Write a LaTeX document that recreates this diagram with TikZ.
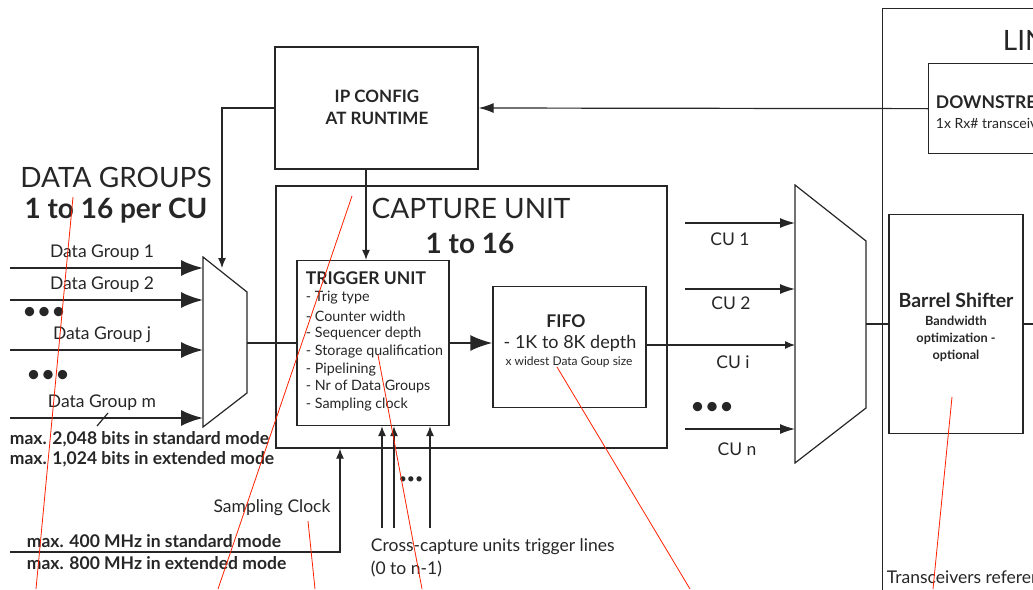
\documentclass[tikz,border=0pt]{standalone}
\usepackage{fontspec}
\setmainfont{Lato}
\usetikzlibrary{arrows.meta}
\begin{document}
\begin{tikzpicture}[x=1pt, y=-1pt, line width=1.2pt, color=black!85,
    box/.style={draw, line width=1.3pt, inner sep=0pt},
    bigarr/.style={-{Latex[length=22pt,width=16pt]}, line width=2pt},
    midarr/.style={-{Latex[length=15pt,width=10pt]}},
    smallarr/.style={-{Latex[length=10pt,width=8pt]}},
    lbl/.style={font=\fontsize{17.5}{20}\selectfont},
    bold/.style={font=\fontsize{17.5}{20}\selectfont\bfseries},
    huge/.style={font=\fontsize{28}{32}\selectfont},
    dots/.style={font=\fontsize{25}{28}\selectfont, inner sep=0pt},
    note/.style={draw=red!75!orange, line width=0.8pt}]
    \clip (0,0) rectangle (1033,589);
    \useasboundingbox (0,0) rectangle (1033,589);
    % boxes
    \node[box, minimum width=203pt, minimum height=122pt] (ipcfg) at (376.5,108) {};
    \node[font=\fontsize{17}{22}\selectfont\bfseries, align=center] (ipcfgtxt) at (377,107) {IP CONFIG\\AT RUNTIME};
    \node[box, minimum width=391pt, minimum height=262pt] (capture) at (471.5,317) {};
    \node[box, minimum width=152pt, minimum height=165pt] (trig) at (373,343) {};
    \node[box, minimum width=153pt, minimum height=121pt] (fifo) at (569.5,347) {};
    \node[box, minimum width=134pt, minimum height=219pt] (barrel) at (956,324) {};
    \node[box, minimum width=260pt, minimum height=700pt, anchor=north west] (link) at (882,8) {};
    \node[box, minimum width=200pt, minimum height=90pt, anchor=north west] (down) at (928,63) {};
    % multiplexers
    \coordinate (mina) at (203,257); \coordinate (minb) at (247,292);
    \coordinate (minc) at (247,393); \coordinate (mind) at (203,427);
    \draw (mina) -- (minb) -- (minc) -- (mind) -- cycle;
    \coordinate (mouta) at (795,185); \coordinate (moutb) at (866,241);
    \coordinate (moutc) at (866,408); \coordinate (moutd) at (795,463);
    \draw (mouta) -- (moutb) -- (moutc) -- (moutd) -- cycle;
    % titles
    \node[huge] (dgtitle) at (116,177) {DATA GROUPS};
    \node[huge, font=\fontsize{28}{32}\selectfont\bfseries] (dgcount) at (116,211) {1 to 16 per CU};
    \node[huge] (cutitle) at (471,208) {CAPTURE UNIT};
    \node[huge, font=\fontsize{28}{32}\selectfont\bfseries] (cucount) at (470,243) {1 to 16};
    \node[huge, anchor=west] (linktitle) at (999,40) {LINK LAYER};
    % data groups
    \foreach \y/\t in {268/1, 300/2, 350/j, 418/m} {
        \coordinate (dg\t) at (10,\y);
        \draw[bigarr] (dg\t) -- (dg\t -| mina);
        \node[lbl] at (102,\y-15) {Data Group \t};
    }
    \node[dots] (dgdotsa) at (44,313) {•••};
    \node[dots] (dgdotsb) at (48,376) {•••};
    \coordinate (dgtick) at (97,426);
    \draw (dgtick) -- +(11,-13);
    \node[bold, anchor=west] (dgmaxa) at (6,439) {max. 2,048 bits in standard mode};
    \node[bold, anchor=west] (dgmaxb) at (6,459) {max. 1,024 bits in extended mode};
    % config path
    \coordinate (cfgin) at (222,268);
    \draw[smallarr] (ipcfg.west) -| (cfgin);
    \draw[midarr] (down.west) -- (ipcfg.east);
    \coordinate (cfgdown) at (366,0);
    \draw[smallarr] (ipcfg.south -| cfgdown) -- (trig.north -| cfgdown);
    % datapath
    \coordinate (minout) at (247,343);
    \draw[line width=2pt] (minout) -- (trig.west);
    \draw[bigarr] (trig.east) -- (trig.east -| fifo.west);
    \coordinate (cui) at (646,345);
    \draw[smallarr] (cui) -- (cui -| mouta);
    \foreach \y/\t in {223/1, 289/2, 429/n} {
        \coordinate (cu\t) at (685,\y);
        \draw[midarr] (cu\t) -- (cu\t -| mouta);
    }
    \node[lbl] (cuonelbl) at (730,239) {CU 1};
    \node[lbl] (cutwolbl) at (731,303) {CU 2};
    \node[lbl] (cuilbl) at (733,362) {CU i};
    \node[dots] (cudots) at (712,408) {•••};
    \node[lbl] (cunlbl) at (737,449) {CU n};
    \coordinate (moutout) at (866,324);
    \draw (moutout) -- (barrel.west);
    \draw (barrel.east) -- +(20,0);
    % trigger unit text
    \node[bold, anchor=west] (trigtitle) at (302,278) {TRIGGER UNIT};
    \foreach \t [count=\i from 0] in {Trig type, Counter width, Sequencer depth, Storage qualification, Pipelining, Nr of Data Groups, Sampling clock}
        \node[font=\fontsize{14.3}{17}\selectfont, anchor=west] at (302,298+17.8*\i) {- \t};
    % fifo text
    \node[font=\fontsize{17.5}{20}\selectfont\bfseries] (fifotitle) at (566,321) {FIFO};
    \node[font=\fontsize{18}{21}\selectfont] (fifodepth) at (570,343) {- 1K to 8K depth};
    \node[font=\fontsize{12}{14}\selectfont] (fifowidth) at (569,362) {x widest Data Goup size};
    % barrel shifter text
    \node[font=\fontsize{19.5}{22}\selectfont\bfseries] (barreltitle) at (956,300) {Barrel Shifter};
    \node[font=\fontsize{12.7}{17}\selectfont\bfseries, align=center, anchor=north] (barrelsub) at (956,312) {Bandwidth\\optimization -\\optional};
    % downstream text
    \node[bold, anchor=west] (downtitle) at (932,102) {DOWNSTREAM};
    \node[font=\fontsize{14}{16}\selectfont, anchor=west] (downsub) at (932,123) {1x Rx\# transceivers};
    \node[lbl, anchor=west] (xcvrref) at (883,577) {Transceivers reference clock};
    % sampling clock
    \coordinate (clkin) at (10,552);
    \coordinate (clk) at (340,552);
    \draw[smallarr] (clkin) -- (clk) -- (clk |- capture.south);
    \node[lbl] (clklbl) at (272,508) {Sampling Clock};
    \node[bold, anchor=west] (clkmaxa) at (23,541) {max. 400 MHz in standard mode};
    \node[bold, anchor=west] (clkmaxb) at (23,563) {max. 800 MHz in extended mode};
    % cross-capture trigger lines
    \foreach \x in {382,394,430} {
        \coordinate (xt\x) at (\x,528);
        \draw[smallarr] (xt\x) -- (xt\x |- trig.south);
    }
    \node[font=\fontsize{14}{16}\selectfont] (xtdots) at (411,480) {•••};
    \node[lbl, anchor=west] (xtlbla) at (367,547) {Cross-capture units trigger lines};
    \node[lbl, anchor=west] (xtlblb) at (367,569) {(0 to n-1)};
    % red marks
    \draw[note] (73,197) -- (36,589);
    \draw[note] (352,196) -- (218,589);
    \draw[note] (308,521) -- (315,589);
    \draw[note] (378,355) -- (422,589);
    \draw[note] (557,367) -- (690,589);
    \draw[note] (952,397) -- (933,589);
\end{tikzpicture}
\end{document}
